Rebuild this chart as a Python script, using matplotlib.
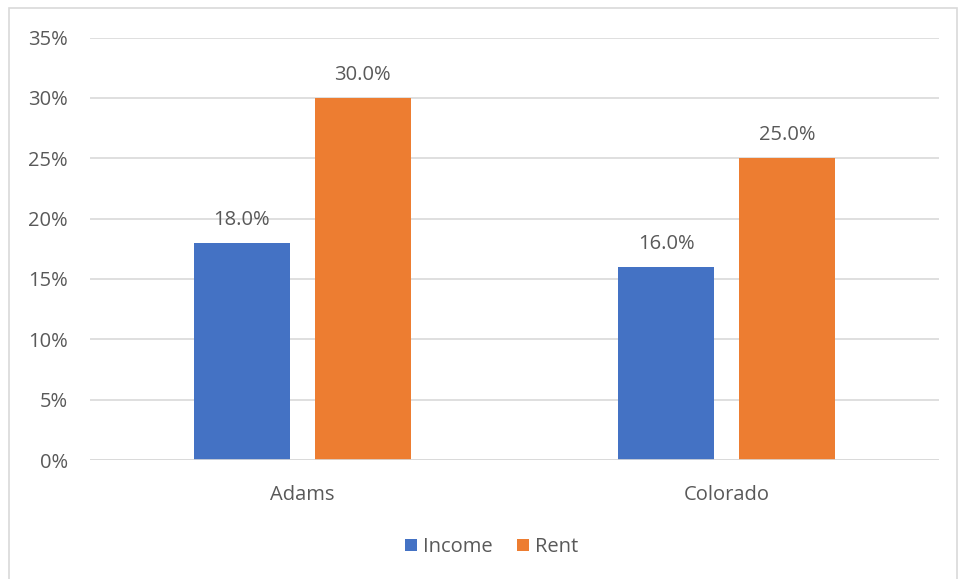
import matplotlib
matplotlib.use("Agg")
import matplotlib.pyplot as plt
from matplotlib.patches import Rectangle
import numpy as np

categories = ["Adams", "Colorado"]
series_names = ["Income", "Rent"]
income = [18.0, 16.0]
rent = [30.0, 25.0]
colors = ["#4472C4", "#ED7D31"]
yticks = [0, 5, 10, 15, 20, 25, 30, 35]

plt.rcParams['font.family'] = ['Open Sans', 'DejaVu Sans']
text_color = "#595959"
fs = 14.5

W, H = 958, 579
fig = plt.figure(figsize=(W / 100, H / 100), dpi=100)
ax = fig.add_axes([90 / W, 1 - 460 / H, (939 - 90) / W, (460 - 37.5) / H])

x = np.arange(len(categories)) + 0.5
bw = 0.226
off = 0.1425
for vals, name, c, o in [(income, "Income", colors[0], -off), (rent, "Rent", colors[1], off)]:
    bars = ax.bar(x + o, vals, width=bw, color=c, label=name, zorder=3)
    for b, v in zip(bars, vals):
        ax.annotate(f"{v:.1f}%", (b.get_x() + b.get_width() / 2, v), xytext=(0, 9.5),
                    textcoords="offset points", ha="center", va="bottom",
                    fontsize=fs, color=text_color)

ax.set_xlim(0, len(categories))
ax.set_ylim(0, 35)
ax.set_yticks(yticks)
ax.set_yticklabels([f"{t}%" for t in yticks])
ax.set_xticks(x)
ax.set_xticklabels(categories)
ax.tick_params(axis="both", length=0, labelsize=fs, labelcolor=text_color)
ax.tick_params(axis="y", pad=16)
ax.tick_params(axis="x", pad=18)
ax.grid(axis="y", color="#D9D9D9", linewidth=1.2, zorder=0)
for s in ax.spines.values():
    s.set_visible(False)
ax.axhline(0, color="#D9D9D9", linewidth=1.2, zorder=4)

leg = fig.legend(loc="center", bbox_to_anchor=(492 / W, 1 - 547 / H), ncol=2, frameon=False,
                 fontsize=fs, handlelength=0.6, handleheight=0.6, handletextpad=0.3,
                 columnspacing=1.2, labelcolor=text_color)

fig.patches.append(Rectangle((9 / W, -0.01), (957 - 9) / W, 1 - 8 / H + 0.01,
                             transform=fig.transFigure, fill=False,
                             edgecolor="#D9D9D9", linewidth=1.2))

fig.savefig("out.png", dpi=100)
